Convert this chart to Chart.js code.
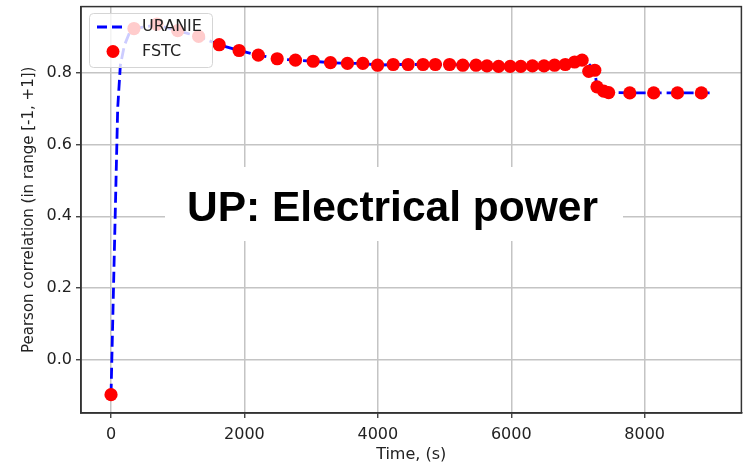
<!DOCTYPE html>
<html lang="en">
<head>
  <meta charset="UTF-8" />
  <title>UP: Electrical power</title>
  <script src="https://cdn.jsdelivr.net/npm/chart.js"></script>
  <style>
    html, body { margin: 0; padding: 0; background: #fff; }
    canvas { display: block; }
  </style>
</head>
<body>
  <canvas id="pearson" width="748" height="464"></canvas>

  <script>
    // values (time in s, Pearson correlation)
    const uranieTime = [0, 100, 140, 200, 280, 344, 687, 1000, 1313, 1622, 1920, 2208, 2491, 2765, 3030, 3290,
      3544, 3775, 3996, 4230, 4454, 4677, 4862, 5075, 5273, 5472, 5636, 5810, 5984, 6143, 6317, 6491, 6649,
      6810, 6950, 7062, 7150, 7252, 7285, 7385, 7460, 7777, 8135, 8492, 8850, 9000];
    const uranieCorr = [-0.096, 0.70, 0.82, 0.875, 0.912, 0.922, 0.932, 0.916, 0.900, 0.877, 0.861, 0.848, 0.838,
      0.834, 0.831, 0.827, 0.825, 0.825, 0.820, 0.822, 0.822, 0.822, 0.822, 0.822, 0.820, 0.820, 0.818, 0.817,
      0.817, 0.817, 0.818, 0.818, 0.820, 0.822, 0.829, 0.834, 0.826, 0.804, 0.760, 0.748, 0.744, 0.743, 0.743,
      0.743, 0.743, 0.743];

    const fstcTime = [0, 344, 687, 1000, 1313, 1622, 1920, 2208, 2491, 2765, 3030, 3290, 3544, 3775, 3996, 4230,
      4454, 4677, 4862, 5075, 5273, 5472, 5636, 5810, 5984, 6143, 6317, 6491, 6649, 6810, 6950, 7062, 7162,
      7252, 7285, 7385, 7460, 7777, 8135, 8492, 8850];
    const fstcCorr = [-0.096, 0.922, 0.934, 0.916, 0.900, 0.877, 0.861, 0.848, 0.838, 0.834, 0.831, 0.827, 0.825,
      0.825, 0.820, 0.822, 0.822, 0.822, 0.822, 0.822, 0.820, 0.820, 0.818, 0.817, 0.817, 0.817, 0.818, 0.818,
      0.820, 0.822, 0.829, 0.834, 0.803, 0.806, 0.760, 0.748, 0.744, 0.743, 0.743, 0.743, 0.743];

    const xTicks = [0, 2000, 4000, 6000, 8000];
    const yTicks = [0.0, 0.2, 0.4, 0.6, 0.8];
    const seriesNames = ['URANIE', 'FSTC'];
    const panelLabel = 'UP: Electrical power';

    const FONT = '"DejaVu Sans", sans-serif';
    const toPoints = (xs, ys) => xs.map((x, i) => ({ x, y: ys[i] }));

    // big bold caption on a white patch, sits under the data
    const caption = {
      id: 'caption',
      beforeDatasetsDraw(chart) {
        const ctx = chart.ctx;
        ctx.save();
        ctx.fillStyle = '#fff';
        ctx.fillRect(165, 167, 458, 74);
        ctx.fillStyle = '#000';
        ctx.font = 'bold 42.5px "Liberation Sans", Arial, sans-serif';
        ctx.textAlign = 'left';
        ctx.textBaseline = 'alphabetic';
        ctx.fillText(panelLabel, 187, 221);
        ctx.restore();
      }
    };

    // matplotlib-like legend box in the upper left corner
    const mplLegend = {
      id: 'mplLegend',
      afterDatasetsDraw(chart) {
        const ctx = chart.ctx;
        ctx.save();
        ctx.beginPath();
        ctx.roundRect(89.5, 13.5, 123, 54, 4);
        ctx.fillStyle = 'rgba(255,255,255,0.8)';
        ctx.fill();
        ctx.strokeStyle = '#d5d5d5';
        ctx.lineWidth = 1;
        ctx.stroke();

        ctx.beginPath();
        ctx.setLineDash([10, 5]);
        ctx.moveTo(97, 27);
        ctx.lineTo(127, 27);
        ctx.strokeStyle = '#0000ff';
        ctx.lineWidth = 2.8;
        ctx.stroke();
        ctx.setLineDash([]);

        ctx.beginPath();
        ctx.arc(113, 51.5, 6.5, 0, Math.PI * 2);
        ctx.fillStyle = '#ff0000';
        ctx.fill();

        ctx.fillStyle = '#222';
        ctx.font = '16px ' + FONT;
        ctx.textBaseline = 'middle';
        ctx.fillText(seriesNames[0], 142, 26.5);
        ctx.fillText(seriesNames[1], 142, 51.5);
        ctx.restore();
      }
    };

    // closes the axes box (top and right spines)
    const frame = {
      id: 'frame',
      afterDraw(chart) {
        const a = chart.chartArea;
        const ctx = chart.ctx;
        ctx.save();
        ctx.strokeStyle = '#333';
        ctx.lineWidth = 1.5;
        ctx.strokeRect(a.left, a.top, a.right - a.left, a.bottom - a.top);
        ctx.restore();
      }
    };

    new Chart(document.getElementById('pearson'), {
      type: 'scatter',
      data: {
        datasets: [
          {
            label: seriesNames[1],
            data: toPoints(fstcTime, fstcCorr),
            backgroundColor: '#ff0000',
            borderWidth: 0,
            pointRadius: 6.6,
            order: 0
          },
          {
            label: seriesNames[0],
            data: toPoints(uranieTime, uranieCorr),
            showLine: true,
            borderColor: '#0000ff',
            borderWidth: 2.8,
            borderDash: [11, 5],
            pointRadius: 0,
            tension: 0,
            order: 1
          }
        ]
      },
      options: {
        responsive: false,
        animation: false,
        layout: { padding: { top: 5, right: 3, left: 0, bottom: 0 } },
        plugins: { legend: { display: false }, tooltip: { enabled: false } },
        scales: {
          x: {
            type: 'linear',
            min: -450,
            max: 9450,
            afterBuildTicks: s => { s.ticks = xTicks.map(v => ({ value: v })); },
            afterFit: s => { s.height = 51; s.paddingLeft = 0; s.paddingRight = 0; },
            grid: { color: '#c4c4c4', lineWidth: 1.5, tickColor: '#333', tickLength: 5, tickWidth: 1.3 },
            border: { color: '#333', width: 1.5 },
            ticks: { color: '#222', font: { family: FONT, size: 16 }, padding: 7, maxRotation: 0,
              callback: v => String(v) },
            title: { display: true, text: 'Time, (s)', color: '#222',
              font: { family: FONT, size: 16 }, padding: { top: 0, bottom: 0 } }
          },
          y: {
            min: -0.147,
            max: 0.983,
            afterBuildTicks: s => { s.ticks = yTicks.map(v => ({ value: v })); },
            afterFit: s => { s.width = 81; s.paddingTop = 0; s.paddingBottom = 0; },
            grid: { color: '#c4c4c4', lineWidth: 1.5, tickColor: '#333', tickLength: 5, tickWidth: 1.3 },
            border: { color: '#333', width: 1.5 },
            ticks: { color: '#222', font: { family: FONT, size: 16 }, padding: 4,
              callback: v => v.toFixed(1) },
            title: { display: true, text: 'Pearson correlation (in range [-1, +1])', color: '#222',
              font: { family: FONT, size: 15 }, padding: { top: 20, bottom: 0 } }
          }
        }
      },
      plugins: [caption, mplLegend, frame]
    });
  </script>
</body>
</html>
